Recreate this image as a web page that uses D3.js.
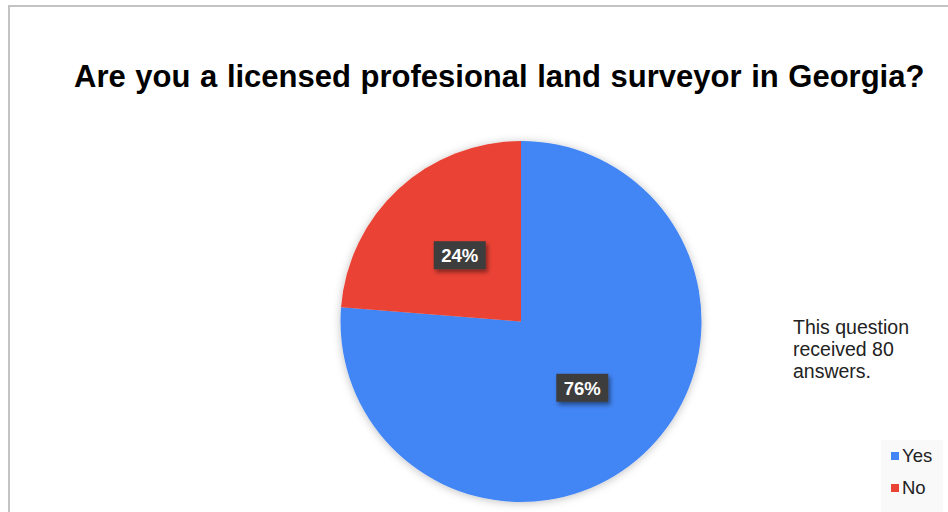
<!DOCTYPE html>
<html>
<head>
<meta charset="utf-8">
<script src="https://cdn.jsdelivr.net/npm/d3@7"></script>
<style>
  body { margin: 0; background: #fff; }
  #wrapper { width: 948px; height: 512px; overflow: hidden; }
  .title { font-family: "Liberation Sans", Arial, sans-serif; font-weight: 700; font-size: 31px; fill: #000; }
  .note { font-family: "Liberation Sans", Arial, sans-serif; font-size: 19.5px; fill: #222; }
  .legend-label { font-family: "Liberation Sans", Arial, sans-serif; font-size: 18.5px; fill: #222; }
  .slice-label { font-family: "Liberation Sans", Arial, sans-serif; font-weight: 700; font-size: 18.5px; fill: #fff; }
</style>
</head>
<body>
<div id="wrapper"></div>
<script>
// data
const answers = ["Yes", "No"];
const counts = [61, 19];
const colors = ["#4285f4", "#ea4335"];
const titleText = "Are you a licensed profesional land surveyor in Georgia?";
const noteLines = ["This question", "received 80", "answers."];

function drawChart() {
  const dataset = answers.map((a, i) => ({ answer: a, count: counts[i] }));
  const total = d3.sum(counts);

  const answerAccessor = (d) => d.answer;
  const countAccessor = (d) => d.count;

  // 2. Create chart dimensions
  let dimensions = {
    width: 948,
    height: 512,
    radius: 180.5,
    centerX: 521,
    centerY: 321.5,
  };

  // 3. Draw canvas
  const wrapper = d3
    .select("#wrapper")
    .append("svg")
    .attr("width", dimensions.width)
    .attr("height", dimensions.height);

  const defs = wrapper.append("defs");
  const pieShadow = defs.append("filter").attr("id", "pie-shadow")
    .attr("x", "-20%").attr("y", "-20%").attr("width", "140%").attr("height", "140%");
  pieShadow.append("feDropShadow")
    .attr("dx", 0).attr("dy", 1).attr("stdDeviation", 4)
    .attr("flood-color", "#000").attr("flood-opacity", 0.25);

  const boxShadow = defs.append("filter").attr("id", "box-shadow")
    .attr("x", "-30%").attr("y", "-30%").attr("width", "160%").attr("height", "160%");
  boxShadow.append("feDropShadow")
    .attr("dx", 2).attr("dy", 3).attr("stdDeviation", 2)
    .attr("flood-color", "#000").attr("flood-opacity", 0.45);

  // frame
  wrapper.append("path")
    .attr("d", "M9,520 L9,6 L960,6")
    .attr("fill", "none")
    .attr("stroke", "#c3c3c3")
    .attr("stroke-width", 2);

  // title
  wrapper.append("text")
    .attr("class", "title")
    .attr("x", 74)
    .attr("y", 87)
    .style("word-spacing", "1px")
    .text(titleText);

  const bounds = wrapper
    .append("g")
    .attr("transform", `translate(${dimensions.centerX}, ${dimensions.centerY})`);

  // 4. Create scales
  const colorScale = d3.scaleOrdinal().domain(answers).range(colors);

  const pie = d3.pie().sort(null).value(countAccessor);
  const arcs = pie(dataset);

  const arc = d3.arc().innerRadius(0).outerRadius(dimensions.radius);

  // 5. Draw data
  bounds.append("g")
    .attr("filter", "url(#pie-shadow)")
    .selectAll("path")
    .data(arcs)
    .join("path")
    .attr("d", arc)
    .attr("fill", (d) => colorScale(answerAccessor(d.data)));

  // slice labels
  const labels = bounds.append("g")
    .selectAll("g")
    .data(arcs)
    .join("g")
    .attr("transform", (d) => `translate(${arc.centroid(d)})`);

  labels.append("rect")
    .attr("x", -26)
    .attr("y", -14)
    .attr("width", 52)
    .attr("height", 28)
    .attr("fill", "#3e3e3e")
    .attr("filter", "url(#box-shadow)");

  labels.append("text")
    .attr("class", "slice-label")
    .attr("text-anchor", "middle")
    .attr("y", 7)
    .text((d) => `${Math.round((countAccessor(d.data) / total) * 100)}%`);

  // 6. Draw peripherals
  wrapper.append("text")
    .attr("class", "note")
    .selectAll("tspan")
    .data(noteLines)
    .join("tspan")
    .attr("x", 793)
    .attr("y", (d, i) => 334 + i * 22)
    .text((d) => d);

  const legend = wrapper.append("g");
  legend.append("rect")
    .attr("x", 881)
    .attr("y", 440)
    .attr("width", 62)
    .attr("height", 80)
    .attr("fill", "#f9f9f9");

  const legendItems = legend.selectAll("g.item")
    .data(answers)
    .join("g")
    .attr("class", "item")
    .attr("transform", (d, i) => `translate(891, ${452 + i * 32})`);

  legendItems.append("rect")
    .attr("width", 8)
    .attr("height", 8)
    .attr("fill", (d) => colorScale(d));

  legendItems.append("text")
    .attr("class", "legend-label")
    .attr("x", 11)
    .attr("y", 10)
    .text((d) => d);
}
drawChart();
</script>
</body>
</html>
